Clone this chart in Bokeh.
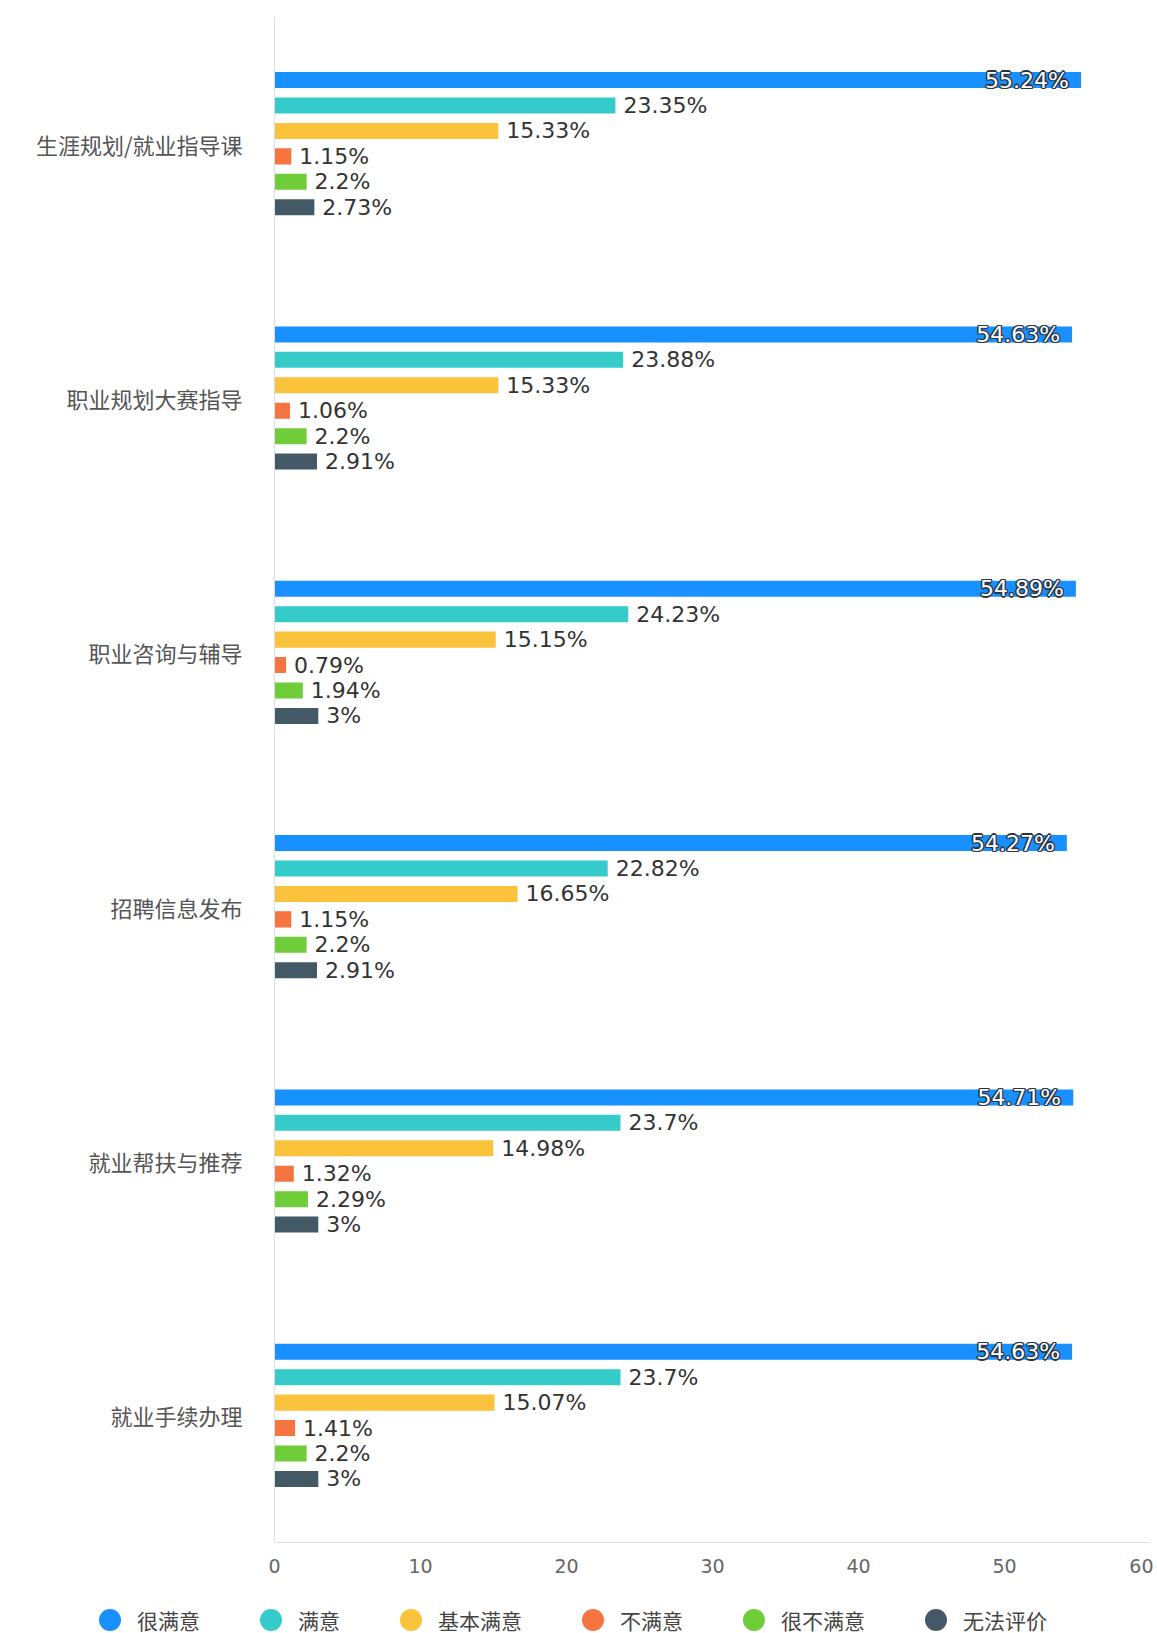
from bokeh.plotting import figure
from bokeh.models import ColumnDataSource, FactorRange, Range1d, Legend, LegendItem, FixedTicker
from bokeh.layouts import column
from bokeh.transform import dodge
from bokeh.core.properties import value
from bokeh.embed import file_html
from bokeh.resources import INLINE

categories = ["生涯规划/就业指导课", "职业规划大赛指导", "职业咨询与辅导",
              "招聘信息发布", "就业帮扶与推荐", "就业手续办理"]
series_names = ["很满意", "满意", "基本满意", "不满意", "很不满意", "无法评价"]
very_satisfied = [55.24, 54.63, 54.89, 54.27, 54.71, 54.63]
satisfied = [23.35, 23.88, 24.23, 22.82, 23.7, 23.7]
basically_satisfied = [15.33, 15.33, 15.15, 16.65, 14.98, 15.07]
dissatisfied = [1.15, 1.06, 0.79, 1.15, 1.32, 1.41]
very_dissatisfied = [2.2, 2.2, 1.94, 2.2, 2.29, 2.2]
cannot_rate = [2.73, 2.91, 3, 2.91, 3, 3]
x_ticks = [0, 10, 20, 30, 40, 50, 60]

series_values = [very_satisfied, satisfied, basically_satisfied,
                 dissatisfied, very_dissatisfied, cannot_rate]
colors = ["#1890ff", "#36cbcb", "#fbc23c", "#f6743f", "#6fcd3a", "#435a66"]
offsets = [0.25, 0.15, 0.05, -0.05, -0.15, -0.25]

p = figure(y_range=FactorRange(factors=list(reversed(categories))),
           x_range=Range1d(0, 60),
           frame_width=876, frame_height=1526,
           min_border_left=274, min_border_top=16, min_border_right=3, min_border_bottom=40,
           output_backend="svg", toolbar_location=None)
p.frame_align = False
p.outline_line_color = None
p.xgrid.grid_line_color = None
p.ygrid.grid_line_color = None

outline_offsets = [(-1.3, 0), (1.3, 0), (0, -1.3), (0, 1.3),
                   (-1, -1), (1, 1), (-1, 1), (1, -1)]

for i, (name, vals) in enumerate(zip(series_names, series_values)):
    src = ColumnDataSource(dict(cat=categories, v=vals,
                                lbl=[f"{x:g}%" for x in vals]))
    yd = dodge("cat", offsets[i], range=p.y_range)
    p.hbar(y=yd, left=0, right="v", height=0.063, source=src,
           fill_color=colors[i], line_color=None)
    if i == 0:
        for dx, dy in outline_offsets:
            p.text(x="v", y=yd, text="lbl", source=src, x_offset=-12 + dx, y_offset=dy,
                   text_align="right", text_baseline="middle",
                   text_font=value("DejaVu Sans"), text_font_size="22px",
                   text_color="#2b3640")
        p.text(x="v", y=yd, text="lbl", source=src, x_offset=-12,
               text_align="right", text_baseline="middle",
               text_font=value("DejaVu Sans"), text_font_size="22px",
               text_color="white")
    else:
        p.text(x="v", y=yd, text="lbl", source=src, x_offset=8,
               text_align="left", text_baseline="middle",
               text_font=value("DejaVu Sans"), text_font_size="22px",
               text_color="#333333")

# axes
p.xaxis.ticker = FixedTicker(ticks=x_ticks)
p.xaxis.axis_line_color = "#dcdfe6"
p.xaxis.major_tick_line_color = None
p.xaxis.minor_tick_line_color = None
p.xaxis.major_label_text_font = "DejaVu Sans"
p.xaxis.major_label_text_font_size = "19px"
p.xaxis.major_label_text_color = "#666666"
p.xaxis.major_label_standoff = 10

p.yaxis.axis_line_color = "#dcdfe6"
p.yaxis.major_tick_line_color = None
p.yaxis.minor_tick_line_color = None
p.yaxis.major_label_text_font = "Noto Sans CJK SC"
p.yaxis.major_label_text_font_size = "22px"
p.yaxis.major_label_text_color = "#555555"
p.yaxis.major_label_standoff = 26

# legend figure below
lg = figure(width=1153, height=51, x_range=Range1d(0, 1), y_range=Range1d(0, 1),
            min_border=0, output_backend="svg", toolbar_location=None)
lg.frame_align = False
lg.axis.visible = False
lg.grid.grid_line_color = None
lg.outline_line_color = None

nan = float("nan")
items = []
for name, c in zip(series_names, colors):
    r = lg.scatter(x=[nan], y=[nan], marker="circle", size=21,
                   fill_color=c, line_color=None)
    items.append(LegendItem(label=name, renderers=[r]))

legend = Legend(items=items, orientation="horizontal", location=(82, -14),
                glyph_width=55, glyph_height=55, label_standoff=0, spacing=43,
                padding=0, margin=0, border_line_color=None,
                background_fill_alpha=0,
                label_text_font="Noto Sans CJK SC", label_text_font_size="21px",
                label_text_color="#444444")
lg.add_layout(legend, "center")

layout = column(p, lg, spacing=0)
open("out.html", "w").write(file_html(layout, INLINE))
